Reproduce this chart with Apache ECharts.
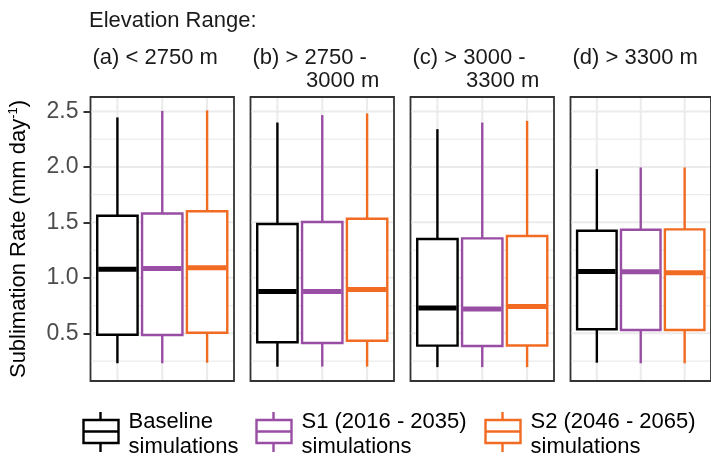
<!DOCTYPE html>
<html>
<head>
<meta charset="utf-8">
<script src="https://cdn.jsdelivr.net/npm/echarts@6/dist/echarts.min.js"></script>
<style>
  html, body { margin: 0; padding: 0; background: #ffffff; }
  #chart { width: 711px; height: 457px; }
</style>
</head>
<body>
<div id="chart"></div>
<script>
// Facet labels (elevation bands)
const panelTitles = ['(a) < 2750 m', '(b) > 2750 -', '(c) > 3000 -', '(d) > 3300 m'];
const panelTitlesLine2 = ['', '3000 m', '3300 m', ''];

// Simulation groups (legend entries, two lines each)
const groupNames = ['Baseline', 'S1 (2016 - 2035)', 'S2 (2046 - 2065)'];
const groupNamesLine2 = ['simulations', 'simulations', 'simulations'];

// Box statistics per group: [lower whisker, Q1, median, Q3, upper whisker]
const statsA = [[0.23, 0.487, 1.078, 1.56, 2.446], [0.23, 0.485, 1.085, 1.58, 2.505], [0.235, 0.505, 1.09, 1.60, 2.51]];
const statsB = [[0.199, 0.419, 0.877, 1.485, 2.40], [0.20, 0.413, 0.877, 1.503, 2.467], [0.20, 0.433, 0.895, 1.532, 2.482]];
const statsC = [[0.195, 0.389, 0.727, 1.35, 2.34], [0.195, 0.386, 0.72, 1.356, 2.40], [0.195, 0.39, 0.742, 1.377, 2.415]];
const statsD = [[0.235, 0.536, 1.057, 1.424, 1.98], [0.23, 0.53, 1.054, 1.433, 1.995], [0.23, 0.53, 1.045, 1.437, 1.995]];
const panelStats = [statsA, statsB, statsC, statsD];

// Y axis
const yTickValues = [0.5, 1.0, 1.5, 2.0, 2.5];
const yMinorValues = [0.25, 0.75, 1.25, 1.75, 2.25];
const yRange = [0.07, 2.63];
const xPositions = [1, 2, 3];

// Styling
const groupColors = ['#000000', '#984ea3', '#f26b22'];
const FONT = 'Liberation Sans, Arial, sans-serif';
const gridColor = '#ebebeb';
const panelLeft = [90.5, 250.5, 410.5, 570.5];
const panelWidth = 143.5;
const panelTop = 97;
const panelHeight = 284;

function hLineRenderer(width) {
  return function (params, api) {
    const cs = params.coordSys;
    const p = api.coord([2, api.value(0)]);
    return {
      type: 'line',
      shape: { x1: cs.x + 1, y1: p[1], x2: cs.x + cs.width - 1, y2: p[1] },
      style: { stroke: gridColor, lineWidth: width },
      silent: true
    };
  };
}

function vLineRenderer(params, api) {
  const cs = params.coordSys;
  const p = api.coord([api.value(0), 1]);
  return {
    type: 'line',
    shape: { x1: p[0], y1: cs.y + 1, x2: p[0], y2: cs.y + cs.height - 1 },
    style: { stroke: gridColor, lineWidth: 2 },
    silent: true
  };
}

function boxRenderer(params, api) {
  const x = api.value(0);
  const color = groupColors[x - 1];
  const low = api.coord([x, api.value(1)]);
  const q1 = api.coord([x, api.value(2)]);
  const med = api.coord([x, api.value(3)]);
  const q3 = api.coord([x, api.value(4)]);
  const high = api.coord([x, api.value(5)]);
  const w = api.size([0.9, 0])[0];
  const lw = 2.4;
  return {
    type: 'group',
    children: [
      { type: 'line', shape: { x1: q3[0], y1: q3[1], x2: high[0], y2: high[1] }, style: { stroke: color, lineWidth: lw } },
      { type: 'line', shape: { x1: q1[0], y1: q1[1], x2: low[0], y2: low[1] }, style: { stroke: color, lineWidth: lw } },
      { type: 'rect', shape: { x: q1[0] - w / 2, y: q3[1], width: w, height: q1[1] - q3[1] },
        style: { fill: '#ffffff', stroke: color, lineWidth: lw } },
      { type: 'line', shape: { x1: med[0] - w / 2 + 1, y1: med[1], x2: med[0] + w / 2 - 1, y2: med[1] },
        style: { stroke: color, lineWidth: 5 } }
    ]
  };
}

const grids = [], xAxes = [], yAxes = [], series = [], titles = [];
const stripStyle = { fontSize: 22, fontWeight: 'normal', color: '#1a1a1a', fontFamily: FONT };

panelStats.forEach((stats, i) => {
  grids.push({
    left: panelLeft[i], top: panelTop, width: panelWidth, height: panelHeight,
    show: true, backgroundColor: '#ffffff', borderColor: '#333333', borderWidth: 1.8
  });
  xAxes.push({ type: 'value', gridIndex: i, min: 0.4, max: 3.6, show: false });
  const y = { type: 'value', gridIndex: i, min: yRange[0], max: yRange[1], splitLine: { show: false } };
  if (i === 0) {
    Object.assign(y, {
      axisLine: { show: false },
      axisTick: { show: true, length: 7, customValues: yTickValues, lineStyle: { color: '#333333', width: 2 } },
      axisLabel: { show: true, customValues: yTickValues, margin: 12, color: '#4d4d4d', fontSize: 23, fontFamily: FONT,
        formatter: v => Number(v).toFixed(1) },
      name: 'Sublimation Rate (mm day{sup|-1})',
      nameLocation: 'middle', nameRotate: 90, nameGap: 59,
      nameTextStyle: { color: '#000000', fontSize: 22, fontFamily: FONT,
        rich: { sup: { fontSize: 13, fontFamily: FONT, color: '#000000', verticalAlign: 'top', lineHeight: 25 } } }
    });
  } else {
    Object.assign(y, { axisLine: { show: false }, axisTick: { show: false }, axisLabel: { show: false } });
  }
  yAxes.push(y);

  series.push({ type: 'custom', xAxisIndex: i, yAxisIndex: i, z: 1, silent: true,
    renderItem: hLineRenderer(1.2), data: yMinorValues.map(v => [v]) });
  series.push({ type: 'custom', xAxisIndex: i, yAxisIndex: i, z: 1, silent: true,
    renderItem: hLineRenderer(2), data: yTickValues.map(v => [v]) });
  series.push({ type: 'custom', xAxisIndex: i, yAxisIndex: i, z: 1, silent: true,
    renderItem: vLineRenderer, data: xPositions.map(v => [v]) });
  series.push({ type: 'custom', xAxisIndex: i, yAxisIndex: i, z: 2, silent: true,
    renderItem: boxRenderer,
    encode: { x: 0, y: [1, 2, 3, 4, 5] },
    data: stats.map((s, k) => [xPositions[k]].concat(s)) });

  titles.push({ text: panelTitles[i], left: panelLeft[i] - 3, top: 42, textStyle: stripStyle });
  if (panelTitlesLine2[i]) {
    titles.push({ text: panelTitlesLine2[i], left: panelLeft[i] + 50.5, top: 65, textStyle: stripStyle });
  }
});

titles.push({ text: 'Elevation Range:', left: 84, top: 5, textStyle: stripStyle });

// Legend keys: a small box glyph with whiskers and a two-line label
const legendX = [81, 254, 483];
const legendGraphics = [];
groupNames.forEach((name, k) => {
  const x0 = legendX[k];
  const c = groupColors[k];
  legendGraphics.push({
    type: 'group', left: x0, top: 409,
    children: [
      { type: 'line', shape: { x1: 18, y1: 0, x2: 18, y2: 40 }, style: { stroke: c, lineWidth: 2.4 } },
      { type: 'rect', shape: { x: 1, y: 8, width: 35, height: 23 }, style: { fill: '#ffffff', stroke: c, lineWidth: 2.4 } },
      { type: 'line', shape: { x1: 1, y1: 19.5, x2: 36, y2: 19.5 }, style: { stroke: c, lineWidth: 2.4 } },
      { type: 'text', x: 46, y: -3, style: { text: name + '\n' + groupNamesLine2[k], fill: '#000000',
        font: '22px ' + FONT, lineHeight: 25 } }
    ]
  });
});

const chart = echarts.init(document.getElementById('chart'), null, { renderer: 'canvas' });
chart.setOption({
  animation: false,
  backgroundColor: '#ffffff',
  title: titles,
  grid: grids,
  xAxis: xAxes,
  yAxis: yAxes,
  series: series,
  graphic: legendGraphics
});
</script>
</body>
</html>
